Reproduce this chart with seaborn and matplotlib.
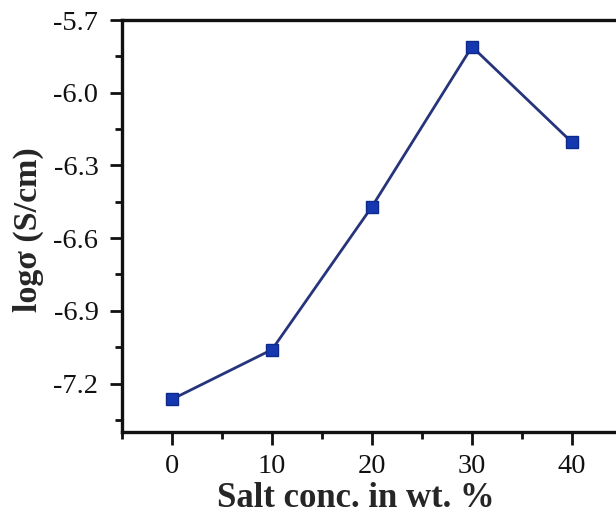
import matplotlib
matplotlib.use("Agg")
import matplotlib.pyplot as plt
import seaborn as sns
import pandas as pd
from matplotlib.ticker import MultipleLocator

salt_conc = [0, 10, 20, 30, 40]
log_sigma = [-7.265, -7.06, -6.47, -5.81, -6.205]
x_ticks = [0, 10, 20, 30, 40]
y_ticks = [-7.2, -6.9, -6.6, -6.3, -6.0, -5.7]

sns.set_theme(style="ticks")
plt.rcParams['font.family'] = ['Liberation Serif', 'DejaVu Serif']
plt.rcParams['mathtext.fontset'] = 'stix'

df = pd.DataFrame({"x": salt_conc, "y": log_sigma})

fig = plt.figure(figsize=(6.16, 5.17), dpi=100)
ax = fig.add_axes([122/616, (517-432)/517, 500/616, (432-20)/517])

sns.lineplot(data=df, x="x", y="y", ax=ax, color="#26347c", linewidth=2.0,
             marker="s", markersize=8, markerfacecolor="#1538b0",
             markeredgecolor="#0d2a8a", markeredgewidth=1)

ax.set_xlim(-5, 45)
ax.set_ylim(-7.4, -5.7)
ax.set_xticks(x_ticks)
ax.set_yticks(y_ticks)
ax.set_yticklabels([f"{v:.1f}" for v in y_ticks])
ax.xaxis.set_minor_locator(MultipleLocator(5))
ax.yaxis.set_minor_locator(MultipleLocator(0.15))

for s in ["top", "left", "bottom", "right"]:
    ax.spines[s].set_linewidth(2.4)
    ax.spines[s].set_color("#111111")

ax.tick_params(axis="both", which="major", direction="out", length=9, width=2,
               labelsize=20.5, colors="#111111")
ax.tick_params(axis="y", which="major", pad=8)
ax.tick_params(axis="x", which="major", pad=7)
ax.tick_params(axis="both", which="minor", direction="out", length=5, width=2,
               colors="#111111")
ax.tick_params(top=False, right=False, which="both")

ax.set_xlabel("Salt conc. in wt. %", fontsize=25, fontweight="bold")
ax.set_ylabel("logσ (S/cm)", fontsize=24.5, fontweight="bold")
ax.xaxis.set_label_coords((356 - 122) / 500, (432 - 482) / 412)
ax.yaxis.set_label_coords((44 - 122) / 500, (432 - 230) / 412)

fig.savefig("out.png", dpi=100)
